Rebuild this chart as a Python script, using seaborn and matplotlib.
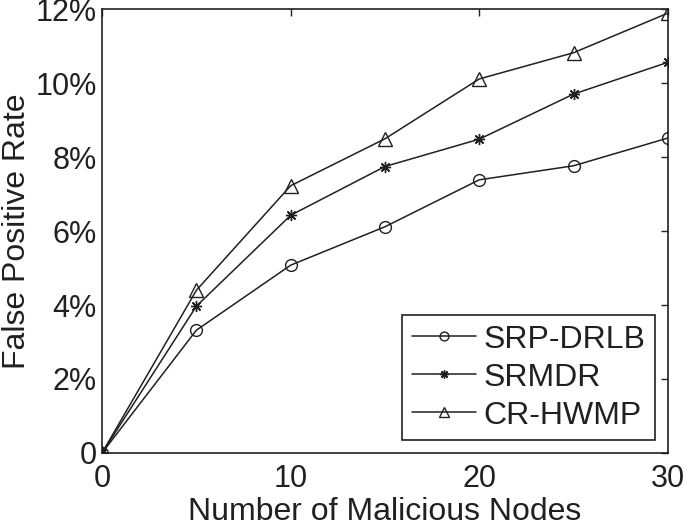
import matplotlib
matplotlib.use("Agg")
import matplotlib.pyplot as plt
import seaborn as sns
import pandas as pd

nodes = [0, 5, 10, 15, 20, 25, 30]
srp_drlb = [0, 3.32, 5.08, 6.12, 7.39, 7.77, 8.52]
srmdr = [0, 3.97, 6.43, 7.75, 8.49, 9.71, 10.57]
cr_hwmp = [0, 4.40, 7.23, 8.50, 10.12, 10.83, 11.90]
series_names = ["SRP-DRLB", "SRMDR", "CR-HWMP"]
y_ticks = [0, 2, 4, 6, 8, 10, 12]
y_tick_labels = ["0", "2%", "4%", "6%", "8%", "10%", "12%"]
x_ticks = [0, 10, 20, 30]

sns.set_style("white")
plt.rcParams['font.family'] = ['Liberation Sans', 'DejaVu Sans']
ink = "#231f20"

fig = plt.figure(figsize=(6.85, 5.26), dpi=100)
ax = fig.add_axes([0.149, 0.139, 0.826, 0.843])

markers = {"SRP-DRLB": ("o", 8.5), "SRMDR": ((8, 2, 0), 8), "CR-HWMP": ("^", 10)}
for name, vals in zip(series_names, [srp_drlb, srmdr, cr_hwmp]):
    m, ms = markers[name]
    sns.lineplot(x=nodes, y=vals, ax=ax, color=ink, linewidth=1.1,
                 marker=m, markersize=ms, markerfacecolor="none",
                 markeredgecolor=ink, markeredgewidth=1.0, label=name)

ax.set_xlim(0, 30)
ax.set_ylim(0, 12)
ax.set_xticks(x_ticks)
ax.set_yticks(y_ticks)
ax.set_yticklabels(y_tick_labels)
ax.tick_params(direction="in", length=5, width=1, top=True, right=True,
               labelsize=22, colors=ink)
ax.tick_params(axis="x", pad=8)
ax.tick_params(axis="y", pad=4)
for sp in ax.spines.values():
    sp.set_color(ink)
    sp.set_linewidth(1.2)
ax.set_xlabel("Number of Malicious Nodes", fontsize=23, labelpad=2, color=ink)
ax.set_ylabel("False Positive Rate", fontsize=23, labelpad=2, color=ink)

leg = ax.legend(loc="lower right", fontsize=23, frameon=True, fancybox=False,
                edgecolor=ink, framealpha=1, borderpad=0.3,
                handlelength=2.0, handletextpad=0.25, labelspacing=0.25,
                borderaxespad=0.4, markerscale=0.75)
leg.get_frame().set_linewidth(1.2)
for t in leg.get_texts():
    t.set_color(ink)

fig.savefig("out.png", dpi=100)
